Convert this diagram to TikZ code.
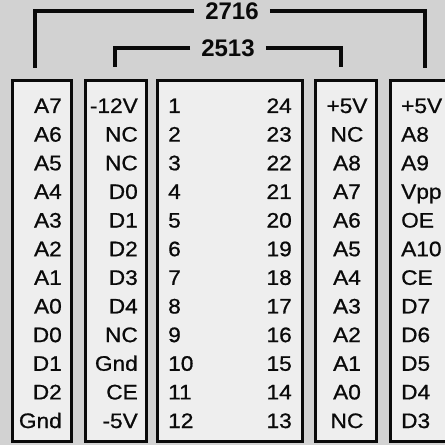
\documentclass[tikz,border=0pt]{standalone}
\usepackage{fontspec}
\setmainfont{Liberation Sans}
\newfontfamily\pinfont{Liberation Sans}[FakeStretch=1.08,FakeBold=0.8]
\usetikzlibrary{positioning}
\definecolor{ink}{HTML}{0A0A0A}
\definecolor{screen}{HTML}{D2D2D2}
\definecolor{paper}{HTML}{EEEEEE}
\tikzset{
  socket/.style={rectangle, draw=ink, fill=paper, line width=3pt, inner sep=0pt,
                 minimum height=361pt},
  pin/.style={font=\pinfont\fontsize{21}{21}\selectfont, text=ink, inner sep=0pt},
  part/.style={font=\fontsize{24}{24}\selectfont\bfseries, text=ink, inner xsep=11pt, inner ysep=0pt},
  bracket/.style={draw=ink, line width=3.5pt},
}

\begin{document}
\begin{tikzpicture}[x=1pt,y=1pt]
\useasboundingbox (0,0) rectangle (445,445);
\clip (0,0) rectangle (445,445);
\fill[screen] (0,0) rectangle (445,445);
% the five socket strips
\node[socket, minimum width=59pt] (colA) at (41.5,183.5) {};
\node[socket, minimum width=61pt] (colB) at (115.5,183.5) {};
\node[socket, minimum width=145pt] (colC) at (229.5,183.5) {};
\node[socket, minimum width=61pt] (colD) at (345.5,183.5) {};
\node[socket, minimum width=80pt] (colE) at (430,183.5) {};
% part brackets
\node[part] (t2716) at (232,434) {2716};
\node[part] (t2513) at (228,397) {2513};
\coordinate (l2716) at (35,377);
\coordinate (r2716) at (425,377);
\coordinate (l2513) at (115,378);
\coordinate (r2513) at (341,378);
\draw[bracket] (t2716.west) -| (l2716);
\draw[bracket] (t2716.east) -| (r2716);
\draw[bracket] (t2513.west) -| (l2513);
\draw[bracket] (t2513.east) -| (r2513);
% pin rows
\foreach \a/\b/\n/\m/\c/\d [count=\i from 0] in {
  A7/-12V/1/24/+5V/+5V, A6/NC/2/23/NC/A8, A5/NC/3/22/A8/A9, A4/D0/4/21/A7/Vpp,
  A3/D1/5/20/A6/OE, A2/D2/6/19/A5/A10, A1/D3/7/18/A4/CE, A0/D4/8/17/A3/D7,
  D0/NC/9/16/A2/D6, D1/Gnd/10/15/A1/D5, D2/CE/11/14/A0/D4, Gnd/-5V/12/13/NC/D3}
{
  \pgfmathsetmacro\yy{332-28.64*\i}
  \node[pin, anchor=base east] (a\i) at (62,\yy) {\a};
  \node[pin, anchor=base east] (b\i) at (138,\yy) {\b};
  \node[pin, anchor=base west] (n\i) at (168,\yy) {\n};
  \node[pin, anchor=base east] (m\i) at (292,\yy) {\m};
  \node[pin, anchor=base] (c\i) at (347,\yy) {\c};
  \node[pin, anchor=base west] (d\i) at (401,\yy) {\d};
}
\end{tikzpicture}
\end{document}
